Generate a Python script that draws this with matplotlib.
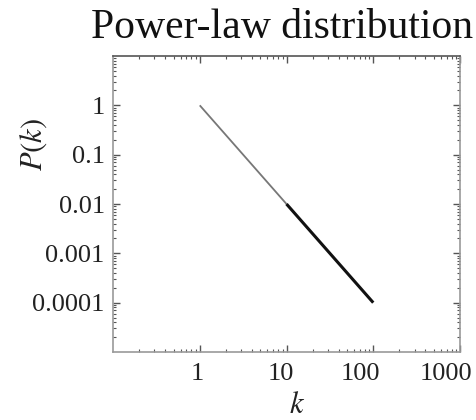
import numpy as np
import matplotlib.pyplot as plt
from matplotlib.ticker import LogLocator, NullFormatter, FixedLocator

# values read along the power law P(k)
k_vals = [1, 10, 100]
p_vals = [1.0, 0.01, 0.0001]

x_ticks = [1, 10, 100, 1000]
x_labels = ['1', '10', '100', '1000']
y_ticks = [1, 0.1, 0.01, 0.001, 0.0001]
y_labels = ['1', '0.1', '0.01', '0.001', '0.0001']

plt.rcParams['font.family'] = ['Liberation Serif', 'DejaVu Serif']
plt.rcParams['mathtext.fontset'] = 'stix'

fig = plt.figure(figsize=(4.76, 4.2), dpi=100)
ax = fig.add_axes([113/476, 1-352/420, 347/476, 296/420])

# lighter where the points are sparse, dark where they pile up
ax.plot(k_vals[:2], p_vals[:2], color='#777777', lw=1.3, solid_capstyle='butt')
ax.plot(k_vals[1:], p_vals[1:], color='#111111', lw=2.2, solid_capstyle='butt')

ax.set_xscale('log')
ax.set_yscale('log')
ax.set_xlim(0.1, 1000)
ax.set_ylim(1e-5, 10)

ax.xaxis.set_major_locator(FixedLocator(x_ticks))
ax.set_xticklabels([])
ax.yaxis.set_major_locator(FixedLocator(y_ticks))
ax.set_yticklabels(y_labels)
ax.xaxis.set_minor_locator(LogLocator(base=10, subs=np.arange(2, 10), numticks=20))
ax.yaxis.set_minor_locator(LogLocator(base=10, subs=np.arange(2, 10), numticks=20))
ax.xaxis.set_minor_formatter(NullFormatter())
ax.yaxis.set_minor_formatter(NullFormatter())

# x labels sit a little left of their ticks
x_shift = [-2, -4, -9, -10]
for v, lab, dx in zip(x_ticks, x_labels, x_shift):
    ax.annotate(lab, xy=(v, 0), xycoords=('data', 'axes fraction'),
                xytext=(dx, -16), textcoords='offset points',
                ha='center', va='center', fontsize=19, color='#222222')

ax.tick_params(which='both', direction='in', top=True, right=True,
               color='#555555', labelsize=19, labelcolor='#222222')
ax.tick_params(which='major', length=5, width=1)
ax.tick_params(which='minor', length=2.5, width=0.8)
ax.tick_params(axis='y', pad=6)

for side in ['left', 'right', 'bottom']:
    ax.spines[side].set_color('#999999')
ax.spines['top'].set_color('#555555')
for s in ax.spines.values():
    s.set_linewidth(1.2)

ax.set_xlabel('$k$', fontsize=22, color='#222222', va='center')
ax.xaxis.set_label_coords(0.53, -0.18)
ax.set_ylabel('$P(k)$', fontsize=22, color='#222222', va='center')
ax.yaxis.set_label_coords(-0.23, 0.70)

fig.text(473/476, 1-28/420, 'Power-law distribution', fontsize=30,
         color='#111111', ha='right', va='center')

fig.savefig('out.png', dpi=100)
